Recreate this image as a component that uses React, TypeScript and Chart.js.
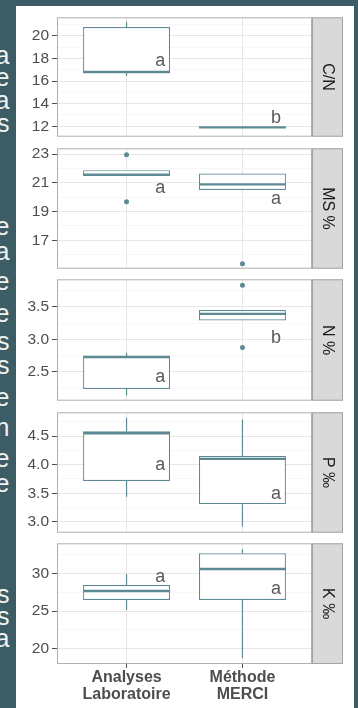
import React, { useEffect, useRef } from 'react';
import { Chart, registerables } from 'chart.js';

Chart.register(...registerables);

// ---------- DATA ----------
const categories = [['Analyses', 'Laboratoire'], ['Méthode', 'MERCI']];
const facetLabels = ['C/N', 'MS %', 'N %', 'P ‰', 'K ‰'];

// box statistics per category: [lower whisker, Q1, median, Q3, upper whisker]
const cnStats = [[16.44, 16.75, 16.8, 20.77, 21.21], [11.86, 11.86, 11.9, 11.94, 11.94]];
const msStats = [[21.47, 21.47, 21.57, 21.88, 21.88], [20.5, 20.5, 20.89, 21.65, 21.65]];
const nStats = [[2.14, 2.24, 2.73, 2.74, 2.79], [3.29, 3.29, 3.39, 3.45, 3.45]];
const pStats = [[3.44, 3.715, 4.55, 4.585, 4.82], [2.92, 3.31, 4.1, 4.15, 4.79]];
const kStats = [[25.15, 26.47, 27.65, 28.45, 29.9], [18.77, 26.47, 30.56, 32.64, 33.16]];

// outliers per category
const cnOutliers = [[], []];
const msOutliers = [[22.95, 19.69], [15.38]];
const nOutliers = [[], [3.83, 2.875]];
const pOutliers = [[], []];
const kOutliers = [[], []];

// significance letters per category and their y values
const cnLetters = ['a', 'b'];
const cnLetterY = [17.32, 12.31];
const msLetters = ['a', 'a'];
const msLetterY = [20.31, 19.51];
const nLetters = ['a', 'b'];
const nLetterY = [2.34, 2.94];
const pLetters = ['a', 'a'];
const pLetterY = [3.907, 3.397];
const kLetters = ['a', 'a'];
const kLetterY = [28.88, 27.26];

// y axes
const cnTicks = [12, 14, 16, 18, 20];
const cnTickLabels = ['12', '14', '16', '18', '20'];
const cnRange = [11.08, 21.63];
const msTicks = [17, 19, 21, 23];
const msTickLabels = ['17', '19', '21', '23'];
const msRange = [15.03, 23.4];
const nTicks = [2.5, 3.0, 3.5];
const nTickLabels = ['2.5', '3.0', '3.5'];
const nRange = [2.06, 3.92];
const pTicks = [3.0, 3.5, 4.0, 4.5];
const pTickLabels = ['3.0', '3.5', '4.0', '4.5'];
const pRange = [2.81, 4.915];
const kTicks = [20, 25, 30];
const kTickLabels = ['20', '25', '30'];
const kRange = [18.0, 33.96];

// ---------- STYLE ----------
const FONT = '"Liberation Sans", Arial, Helvetica, sans-serif';
const TEAL = '#5e8a94';
const BG = '#3d5d66';
const LETTER_OFFSET = 0.29;

Chart.defaults.font.family = FONT;

const panelTops = [17, 148, 279, 412, 543];
const panelBottoms = [137, 269, 401, 533, 664];

const sideLetters: [string, number][] = [
  ['a', 57.5], ['e', 80], ['a', 102.5], ['s', 126],
  ['e', 228.3], ['a', 254], ['e', 283.3], ['e', 315.7], ['s', 344], ['s', 368],
  ['e', 400], ['n', 430], ['e', 460.8], ['e', 485.8],
  ['s', 597], ['s', 619], ['a', 641],
];

type FacetProps = {
  stats: number[][];
  outliers: number[][];
  letters: string[];
  letterY: number[];
  ticks: number[];
  tickLabels: string[];
  range: number[];
  label: string;
  index: number;
  isBottom: boolean;
};

function Facet(p: FacetProps) {
  const ref = useRef<HTMLCanvasElement>(null);
  const top = panelTops[p.index] - 12;
  const height = p.isBottom ? 708 - top : panelBottoms[p.index] - panelTops[p.index] + 24;
  const width = 330;

  useEffect(() => {
    const canvas = ref.current;
    if (!canvas) return;
    const [min, max] = p.range;
    const step = (p.ticks[1] - p.ticks[0]) / 2;
    const all: number[] = [];
    const start = p.ticks[0] - step * Math.ceil((p.ticks[0] - min) / step);
    for (let v = start; v <= max + 1e-9; v += step) {
      const r = Math.round(v * 1000) / 1000;
      if (r >= min - 1e-9) all.push(r);
    }
    const majorIndex = (v: number) => p.ticks.findIndex((t) => Math.abs(t - v) < 1e-6);

    const boxPlugin = {
      id: 'boxExtras',
      beforeDatasetsDraw(chart: any) {
        const ctx = chart.ctx;
        const xs = chart.scales.x;
        const ys = chart.scales.y;
        ctx.save();
        ctx.strokeStyle = TEAL;
        ctx.lineWidth = 1.2;
        p.stats.forEach((s, i) => {
          const x = xs.getPixelForValue(i + 1);
          ctx.beginPath();
          ctx.moveTo(x, ys.getPixelForValue(s[0]));
          ctx.lineTo(x, ys.getPixelForValue(s[1]));
          ctx.moveTo(x, ys.getPixelForValue(s[3]));
          ctx.lineTo(x, ys.getPixelForValue(s[4]));
          ctx.stroke();
        });
        ctx.restore();
      },
      afterDatasetsDraw(chart: any) {
        const ctx = chart.ctx;
        const xs = chart.scales.x;
        const ys = chart.scales.y;
        const meta = chart.getDatasetMeta(0);
        ctx.save();
        ctx.strokeStyle = TEAL;
        ctx.lineWidth = 2.4;
        p.stats.forEach((s, i) => {
          const bar = meta.data[i];
          const half = bar.width / 2;
          const y = ys.getPixelForValue(s[2]);
          ctx.beginPath();
          ctx.moveTo(bar.x - half, y);
          ctx.lineTo(bar.x + half, y);
          ctx.stroke();
        });
        ctx.fillStyle = '#5a5a5a';
        ctx.font = `18px ${FONT}`;
        ctx.textAlign = 'center';
        ctx.textBaseline = 'alphabetic';
        p.letters.forEach((l, i) => {
          ctx.fillText(l, xs.getPixelForValue(i + 1 + LETTER_OFFSET), ys.getPixelForValue(p.letterY[i]));
        });
        ctx.restore();
      },
      afterDraw(chart: any) {
        const ctx = chart.ctx;
        const { left, right, top: t, bottom } = chart.chartArea;
        ctx.save();
        // panel border
        ctx.strokeStyle = '#b0b0b0';
        ctx.lineWidth = 1;
        ctx.strokeRect(left + 0.5, t + 0.5, right - left - 1, bottom - t - 1);
        // strip
        const sw = 31;
        ctx.fillStyle = '#d9d9d9';
        ctx.fillRect(right, t, sw, bottom - t);
        ctx.strokeStyle = '#a3a3a3';
        ctx.strokeRect(right + 0.5, t + 0.5, sw - 1, bottom - t - 1);
        ctx.translate(right + sw / 2, (t + bottom) / 2);
        ctx.rotate(Math.PI / 2);
        ctx.fillStyle = '#1a1a1a';
        ctx.font = `16px ${FONT}`;
        ctx.textAlign = 'center';
        ctx.textBaseline = 'middle';
        ctx.fillText(p.label, 0, 0);
        ctx.restore();
      },
    };

    const chart = new Chart(canvas, {
      type: 'bar',
      data: {
        datasets: [
          {
            type: 'bar',
            data: p.stats.map((s, i) => ({ x: i + 1, y: [s[1], s[3]] })) as any,
            backgroundColor: '#ffffff',
            borderColor: TEAL,
            borderWidth: 1.2,
            borderSkipped: false,
            barPercentage: 0.75,
            categoryPercentage: 1,
          } as any,
          {
            type: 'scatter',
            data: p.outliers.flatMap((arr, i) => arr.map((v) => ({ x: i + 1, y: v }))),
            backgroundColor: TEAL,
            borderWidth: 0,
            pointRadius: 2.5,
          } as any,
        ],
      },
      options: {
        animation: false,
        responsive: false,
        devicePixelRatio: 1,
        layout: { padding: { top: 12, bottom: p.isBottom ? 0 : 12, left: 0, right: 34 } },
        plugins: { legend: { display: false }, tooltip: { enabled: false } },
        scales: {
          x: {
            type: 'linear',
            min: 0.4,
            max: 2.6,
            offset: false,
            afterBuildTicks: (s: any) => {
              s.ticks = [{ value: 1 }, { value: 2 }];
            },
            afterFit: (s: any) => {
              s.height = p.isBottom ? 44 : 0;
            },
            border: { display: false },
            grid: {
              offset: false,
              color: '#e6e6e6',
              lineWidth: 1,
              drawTicks: p.isBottom,
              tickLength: 4,
              tickColor: '#4d4d4d',
            },
            ticks: {
              display: p.isBottom,
              autoSkip: false,
              maxRotation: 0,
              minRotation: 0,
              padding: 1,
              color: '#4d4d4d',
              font: { size: 16, weight: 'bold', lineHeight: 1.08 },
              callback: (_v: any, i: number) => categories[i] as any,
            },
          } as any,
          y: {
            type: 'linear',
            min,
            max,
            beginAtZero: false,
            afterBuildTicks: (s: any) => {
              s.ticks = all.map((v) => ({ value: v }));
            },
            afterFit: (s: any) => {
              s.width = 41;
            },
            border: { display: false },
            grid: {
              color: (c: any) => (majorIndex(c.tick?.value) >= 0 ? '#e6e6e6' : '#f3f3f3'),
              lineWidth: (c: any) => (majorIndex(c.tick?.value) >= 0 ? 1 : 0.7),
              tickColor: (c: any) => (majorIndex(c.tick?.value) >= 0 ? '#4d4d4d' : 'rgba(0,0,0,0)'),
              tickLength: 5,
            },
            ticks: {
              autoSkip: false,
              padding: 3,
              color: '#4d4d4d',
              font: { size: 15.5 },
              callback: (v: any) => {
                const k = majorIndex(Number(v));
                return k >= 0 ? p.tickLabels[k] : '';
              },
            },
          } as any,
        },
      },
      plugins: [boxPlugin],
    });
    return () => chart.destroy();
  }, []);

  return (
    <canvas
      ref={ref}
      width={width}
      height={height}
      style={{ position: 'absolute', left: 16, top, width, height }}
    />
  );
}

export default function App() {
  const facets = [
    { stats: cnStats, outliers: cnOutliers, letters: cnLetters, letterY: cnLetterY, ticks: cnTicks, tickLabels: cnTickLabels, range: cnRange },
    { stats: msStats, outliers: msOutliers, letters: msLetters, letterY: msLetterY, ticks: msTicks, tickLabels: msTickLabels, range: msRange },
    { stats: nStats, outliers: nOutliers, letters: nLetters, letterY: nLetterY, ticks: nTicks, tickLabels: nTickLabels, range: nRange },
    { stats: pStats, outliers: pOutliers, letters: pLetters, letterY: pLetterY, ticks: pTicks, tickLabels: pTickLabels, range: pRange },
    { stats: kStats, outliers: kOutliers, letters: kLetters, letterY: kLetterY, ticks: kTicks, tickLabels: kTickLabels, range: kRange },
  ];
  return (
    <div
      style={{
        position: 'fixed',
        left: 0,
        top: 0,
        width: 358,
        height: 708,
        background: BG,
        overflow: 'hidden',
        fontFamily: FONT,
      }}
    >
      {sideLetters.map(([ch, y], i) => (
        <div
          key={i}
          style={{
            position: 'absolute',
            right: 358 - 9.5,
            top: y - 14.7,
            fontSize: 25,
            lineHeight: '25px',
            color: '#eef3f4',
            whiteSpace: 'nowrap',
          }}
        >
          {ch}
        </div>
      ))}
      <div style={{ position: 'absolute', left: 16, top: 6, width: 338, height: 702, background: '#ffffff' }} />
      {facets.map((f, i) => (
        <Facet key={i} {...f} label={facetLabels[i]} index={i} isBottom={i === facets.length - 1} />
      ))}
    </div>
  );
}
